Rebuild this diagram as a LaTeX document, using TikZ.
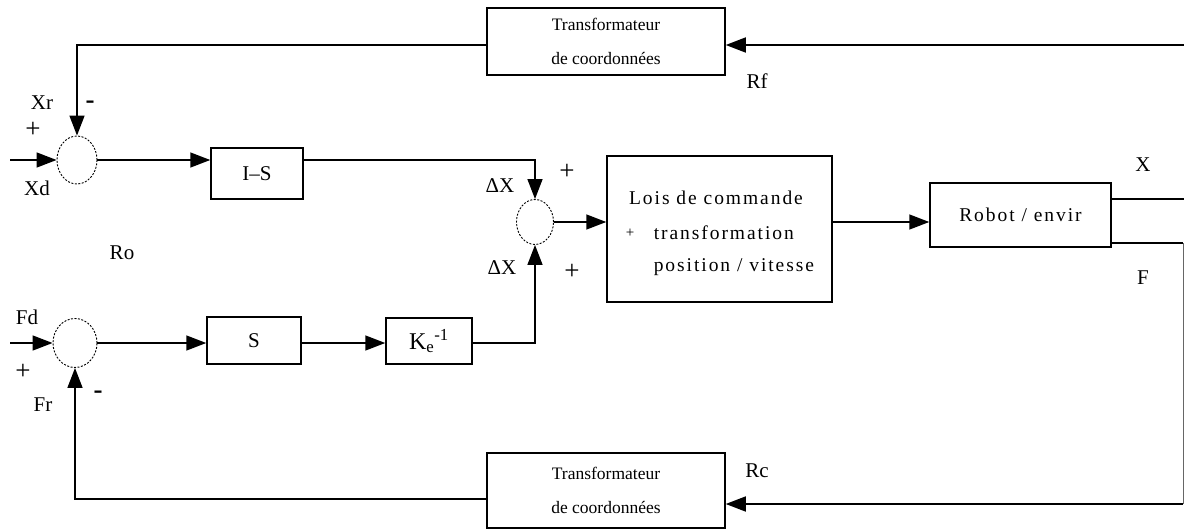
\documentclass[tikz,border=0pt]{standalone}
\usepackage{fontspec}
\setmainfont{Liberation Serif}
\newfontfamily\spaced[LetterSpace=10]{Liberation Serif}
\usetikzlibrary{arrows.meta,shapes.geometric}
\begin{document}
\begin{tikzpicture}[x=1pt,y=-1pt,
  line width=1.5pt,
  >={Triangle[length=20pt,width=15pt]},
  blk/.style={draw,rectangle,inner sep=0pt,line width=1.5pt},
  sumj/.style={draw,ellipse,inner sep=0pt,line width=0.9pt,dash pattern=on 2pt off 1.5pt},
  lbl/.style={inner sep=0pt,font=\fontsize{21}{24}\selectfont},
  sgn/.style={inner sep=0pt,font=\fontsize{27}{28}\selectfont},
  trans/.style={blk,align=center,font=\fontsize{17.5}{34}\selectfont},
  lawtxt/.style={inner sep=0pt,font=\fontsize{19.5}{22}\spaced}
]
\useasboundingbox (0,0) rectangle (1184,530);

% blocks
\node[trans,minimum width=238pt,minimum height=67pt] (trt) at (606,41.5) {Transformateur\\de coordonnées};
\node[trans,minimum width=238pt,minimum height=75pt] (trb) at (606,490.5) {Transformateur\\de coordonnées};
\node[blk,minimum width=92pt,minimum height=51pt,font=\fontsize{21}{24}\selectfont] (is) at (257,173.5) {I–S};
\node[blk,minimum width=94pt,minimum height=47pt,font=\fontsize{21}{24}\selectfont] (sb) at (254,340.5) {S};
\node[blk,minimum width=86pt,minimum height=46pt,font=\fontsize{24}{26}\selectfont] (kb) at (429,341) {K\textsubscript{e}\textsuperscript{-1}};
\node[blk,minimum width=225pt,minimum height=146pt] (law) at (719.5,229) {};
\node[blk,minimum width=181pt,minimum height=64pt,font=\fontsize{19.5}{22}\spaced] (rob) at (1020.5,215) {Robot / envir};

% text of the control-law block
\node[lawtxt] (law1) at (716,198) {Lois de commande};
\node[lawtxt,anchor=west] (law2) at (653,233) {transformation};
\node[lawtxt,anchor=west] (law3) at (653,267) {position / vitesse};
\node[inner sep=0pt,font=\fontsize{15}{16}\selectfont] (lawp) at (630,233) {+};

% summing junctions
\node[sumj,minimum width=40pt,minimum height=48pt] (s1) at (77,160) {};
\node[sumj,minimum width=37pt,minimum height=45pt] (s2) at (535,222) {};
\node[sumj,minimum width=44pt,minimum height=49pt] (s3) at (75,343) {};

% free ends of the connectors
\coordinate (tin) at (1184,45);
\coordinate (xd) at (10,160);
\coordinate (fd) at (10,343);
\coordinate (xo) at (1184,199);
\coordinate (fc) at (1183,243);
\coordinate (fb) at (1183,504);
\coordinate (frl) at (77,499);

% position loop
\draw[->] (tin) -- (tin -| trt.east);
\draw[->] (trt.west |- tin) -| (s1.north);
\draw[->] (xd) -- (s1.west);
\draw[->] (s1.east) -- (is.west |- s1.east);
\draw[->] (is.east |- s1.east) -| (s2.north);

% force loop
\draw[->] (fd) -- (s3.west);
\draw[->] (s3.east) -- (sb.west |- s3.east);
\draw[->] (sb.east |- s3.east) -- (kb.west |- s3.east);
\draw[->] (kb.east |- s3.east) -| (s2.south);

% forward path
\draw[->] (s2.east) -- (law.west |- s2.east);
\draw[->] (law.east |- s2.east) -- (rob.west |- s2.east);
\draw (rob.east |- xo) -- (xo);
\draw (rob.east |- fc) -- (fc);
\draw[line width=0.7pt,black!60] (fc) -- (fb);
\draw[->] (fb) -- (trb.east |- fb);
\draw[->] (trb.west |- frl) -| (s3.south);

% signal labels
\node[lbl] (lxr) at (42,103) {Xr};
\node[sgn] (m1) at (90,105) {\textbf{-}};
\node[sgn] (p1) at (33,130) {+};
\node[lbl] (lxd) at (37,188) {Xd};
\node[lbl] (ldx1) at (500,186) {ΔX};
\node[sgn] (p2) at (567,172) {+};
\node[lbl] (ldx2) at (502,268) {ΔX};
\node[sgn] (p3) at (572,272) {+};
\node[lbl] (lfd) at (27,317) {Fd};
\node[sgn] (p4) at (23,372) {+};
\node[lbl] (lfr) at (43,405) {Fr};
\node[sgn] (m2) at (98,395) {\textbf{-}};
\node[lbl] (lro) at (122,253) {Ro};
\node[lbl] (lx) at (1143,165) {X};
\node[lbl] (lf) at (1143,278) {F};
\node[lbl] (lrf) at (757,81) {Rf};
\node[lbl] (lrc) at (757,471) {Rc};
\end{tikzpicture}
\end{document}
